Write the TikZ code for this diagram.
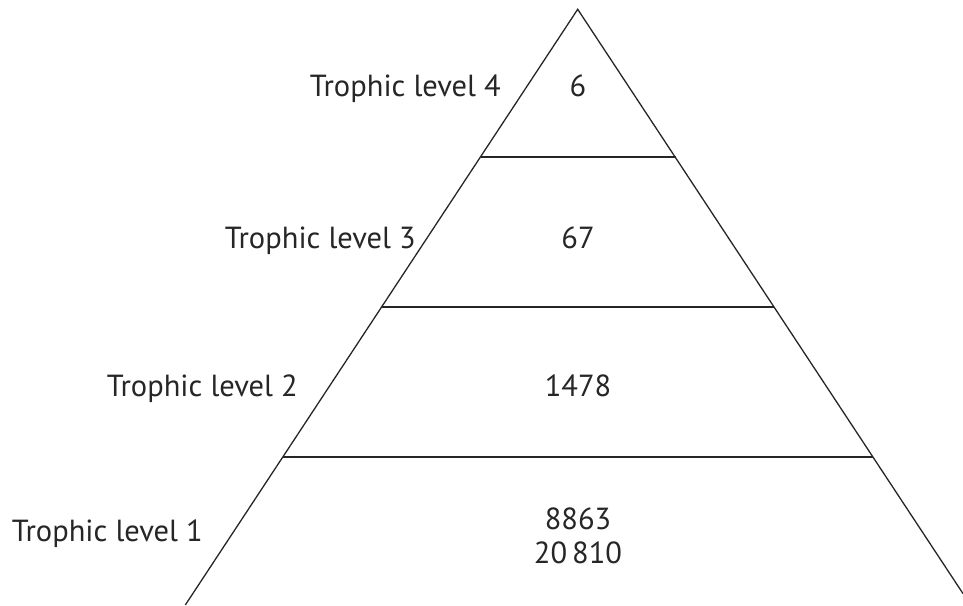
\documentclass[tikz,border=0pt]{standalone}
\usepackage{fontspec}
\setmainfont{PT Sans}
\begin{document}
\begin{tikzpicture}[x=1pt,y=-1pt,
  edge/.style={line width=1.3pt,draw=black!85},
  lbl/.style={font=\fontsize{30.5}{34}\selectfont,text=black!85,inner sep=0pt},
]
\useasboundingbox (0,0) rectangle (963,605);
\coordinate (apex) at (577.7,9.3);
\coordinate (bl) at (185.3,605);
\coordinate (br) at (963,593.6);
\draw[edge] (bl) -- (apex) -- (br);
\coordinate (l3) at (480.5,157); \coordinate (r3) at (675.5,157);
\coordinate (l2) at (382,307); \coordinate (r2) at (774,307);
\coordinate (l1) at (283,457); \coordinate (r1) at (872.7,457);
\draw[edge] (l3) -- (r3);
\draw[edge] (l2) -- (r2);
\draw[edge] (l1) -- (r1);
\node[lbl,anchor=base east] (t4) at (501,96) {Trophic level 4};
\node[lbl,anchor=base east] (t3) at (416,248) {Trophic level 3};
\node[lbl,anchor=base east] (t2) at (298,396) {Trophic level 2};
\node[lbl,anchor=base east] (t1) at (203,541) {Trophic level 1};
\node[lbl,anchor=base] (v4) at (578,96) {6};
\node[lbl,anchor=base] (v3) at (578,248) {67};
\node[lbl,anchor=base] (v2) at (578,396) {1478};
\node[lbl,anchor=base] (v1a) at (578,529) {8863};
\node[lbl,anchor=base] (v1b) at (578,563) {20\,810};
\end{tikzpicture}
\end{document}
